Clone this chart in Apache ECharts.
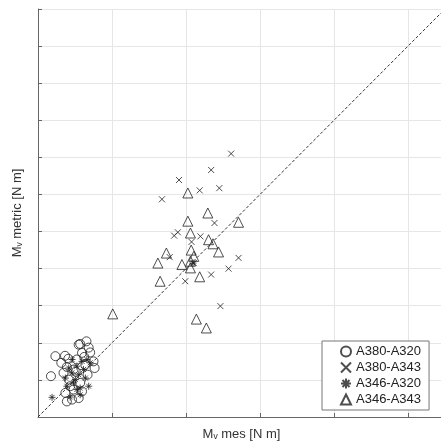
<!DOCTYPE html>
<html>
<head>
<meta charset="utf-8">
<script src="https://cdn.jsdelivr.net/npm/echarts@6/dist/echarts.min.js"></script>
<style>
  html, body { margin: 0; padding: 0; background: #fff; overflow: hidden; }
  #chart { width: 441px; height: 446px; }
</style>
</head>
<body>
<!-- chart container -->
<div id="chart"></div>
<script>
// series names (legend order)
const seriesNames = ['A380-A320', 'A380-A343', 'A346-A320', 'A346-A343']

// [M_v mes, M_v metric]
const a380_a320 = [
  [0.35, 1.10], [0.47, 1.64], [0.63, 1.46], [0.82, 1.57], [1.10, 1.95], [1.31, 2.04],
  [1.19, 1.73], [1.37, 1.87], [1.50, 1.50], [1.53, 1.32], [1.34, 1.14], [0.69, 1.19],
  [0.92, 0.47], [1.10, 0.51], [0.74, 0.65], [0.83, 1.01], [1.05, 1.55], [1.28, 1.41],
  [0.96, 1.28], [1.14, 0.92], [0.87, 0.83], [1.19, 0.69], [1.25, 1.62], [0.78, 1.35],
  [1.02, 1.22], [1.14, 1.97], [0.73, 1.65], [1.41, 1.74], [0.96, 0.74], [0.78, 0.42]
]
const a380_a343 = [
  [5.22, 7.10], [4.68, 6.66], [3.81, 6.39], [4.37, 6.11], [4.90, 6.17], [3.35, 5.87],
  [4.77, 5.23], [3.78, 4.98], [3.68, 4.89], [4.39, 4.87], [4.15, 4.72], [3.56, 4.31],
  [5.42, 4.29], [4.21, 4.15], [5.15, 4.00], [4.68, 3.84], [3.98, 3.66], [4.93, 2.99]
]
const a346_a320 = [
  [0.38, 0.53], [0.87, 0.54], [1.37, 0.83], [1.14, 0.78], [1.01, 1.01], [0.92, 1.19],
  [1.05, 1.37], [1.19, 1.50], [1.32, 1.55], [1.23, 1.28], [0.83, 1.32], [0.96, 0.92],
  [1.10, 1.14], [1.14, 0.60], [0.78, 0.83], [1.05, 0.74], [1.28, 1.05], [0.74, 1.05],
  [0.92, 1.55], [1.41, 1.46], [4.19, 4.15]
]
const a346_a343 = [
  [4.05, 6.04], [4.59, 5.50], [4.05, 5.28], [5.42, 5.25], [4.12, 4.96], [4.61, 4.78],
  [4.73, 4.67], [4.14, 4.50], [4.88, 4.45], [3.47, 4.42], [4.21, 4.33], [3.24, 4.15],
  [3.89, 4.11], [4.12, 4.20], [4.12, 4.02], [4.37, 3.78], [3.30, 3.66], [2.02, 2.78],
  [4.28, 2.64], [4.55, 2.40]
]
// y = x reference line
const diagonal = [[0, 0], [11, 11]]

const symbols = [
  'circle',
  'path://M0,0L10,10M10,0L0,10',
  'path://M5,0L5,10M0,5L10,5M1.5,1.5L8.5,8.5M8.5,1.5L1.5,8.5',
  'triangle'
]
const sizes = [9, 6, 7, 10]
const dataSets = [a380_a320, a380_a343, a346_a320, a346_a343]

const FONT = '"Liberation Sans", Arial, "DejaVu Sans", sans-serif'

const chart = echarts.init(document.getElementById('chart'))

function axisBase (interval) {
  return {
    type: 'value',
    min: 0,
    max: 11,
    interval: interval,
    axisLabel: { show: false },
    axisLine: { show: true, onZero: false, lineStyle: { color: '#666', width: 1 } },
    axisTick: { show: true, inside: true, length: 4, lineStyle: { color: '#666' } },
    splitLine: { show: true, lineStyle: { color: '#e6e6e6', width: 1 } }
  }
}

const option = {
  animation: false,
  grid: { left: 38, top: 9, width: 407, height: 408, outerBoundsMode: 'none' },
  xAxis: Object.assign(axisBase(2), {
    name: 'M\u1D65 mes [N m]',   // subscript v
    nameLocation: 'middle',
    nameGap: 11,
    nameTextStyle: { fontSize: 13, color: '#333', fontFamily: FONT }
  }),
  yAxis: Object.assign(axisBase(1), {
    name: 'M\u1D65 metric [N m]',
    nameLocation: 'middle',
    nameGap: 14,
    nameTextStyle: { fontSize: 13, color: '#333', fontFamily: FONT }
  }),
  legend: {
    data: seriesNames,
    orient: 'vertical',
    left: 322,
    top: 341,
    padding: [4, 8, 4, 18],
    itemWidth: 10,
    itemHeight: 10,
    itemGap: 3,
    backgroundColor: '#fff',
    borderColor: '#777',
    borderWidth: 1,
    borderRadius: 0,
    textStyle: { fontSize: 13, color: '#222', fontFamily: FONT }
  },
  series: [
    {
      type: 'line',
      data: diagonal,
      symbol: 'none',
      silent: true,
      lineStyle: { color: '#333', width: 1, type: [3, 2] },
      z: 1
    }
  ].concat(seriesNames.map((name, i) => ({
    name: name,
    type: 'scatter',
    data: dataSets[i],
    symbol: symbols[i],
    symbolSize: sizes[i],
    itemStyle: { color: 'rgba(0,0,0,0)', borderColor: '#222', borderWidth: 1 },
    z: 3
  })))
}

chart.setOption(option)
</script>
</body>
</html>
